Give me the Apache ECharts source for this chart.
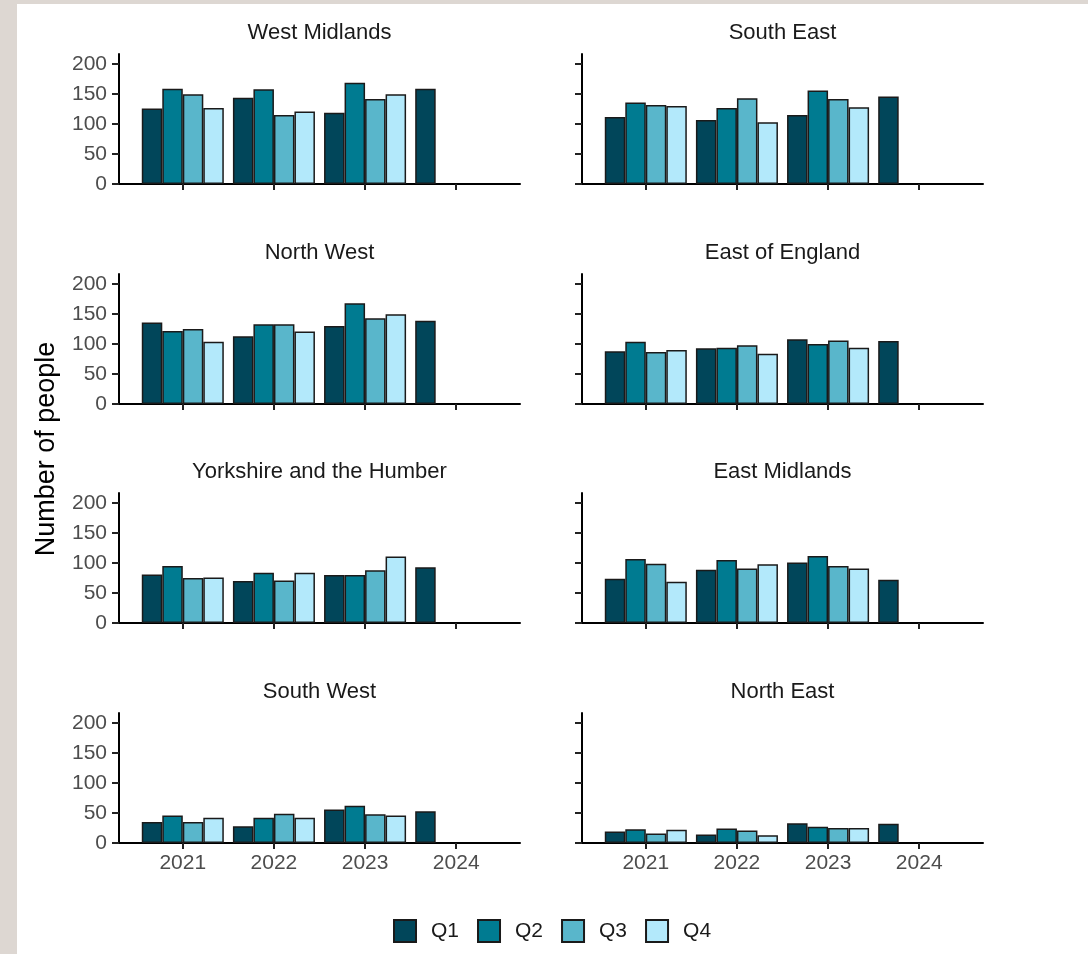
<!DOCTYPE html>
<html><head><meta charset="utf-8">
<script src="https://cdn.jsdelivr.net/npm/echarts@6/dist/echarts.min.js"></script>
<style>
html,body{margin:0;padding:0;background:#ddd7d2;}
#bg{position:absolute;left:17px;top:4px;width:1071px;height:950px;background:#ffffff;}
#chart{position:absolute;left:0;top:0;width:1088px;height:954px;}
</style></head><body><div id="bg"></div><div id="chart"></div>
<script>
// ---- data ----
const years = [2021, 2022, 2023, 2024];
const quarters = ['Q1', 'Q2', 'Q3', 'Q4'];
const yTickValues = [0, 50, 100, 150, 200];
const quarterColors = ['#01465a', '#007b91', '#59b6cb', '#b3e9fb'];
const regionNames = ['West Midlands', 'South East', 'North West', 'East of England',
  'Yorkshire and the Humber', 'East Midlands', 'South West', 'North East'];
// rows: Q1..Q4, columns: years
const westMidlands = [[126, 144, 119, 159], [159, 158, 169], [150, 115, 142], [127, 121, 150]];
const southEast = [[112, 107, 115, 146], [136, 127, 156], [132, 143, 142], [130, 103, 128]];
const northWest = [[136, 113, 130, 139], [122, 133, 168], [125, 133, 143], [104, 121, 150]];
const eastOfEngland = [[88, 93, 108, 105], [104, 94, 100], [87, 98, 106], [90, 84, 94]];
const yorkshire = [[81, 70, 80, 93], [95, 84, 80], [75, 71, 88], [76, 84, 111]];
const eastMidlands = [[74, 89, 101, 72], [107, 105, 112], [99, 91, 95], [69, 98, 91]];
const southWest = [[35, 28, 56, 53], [46, 42, 62], [35, 49, 48], [42, 42, 46]];
const northEast = [[19, 14, 33, 32], [23, 24, 27], [16, 21, 25], [22, 13, 25]];
const regionData = [westMidlands, southEast, northWest, eastOfEngland, yorkshire, eastMidlands, southWest, northEast];

// ---- layout ----
const colLeft = [119, 582];
const gridWidth = 401;
const rowTop = [54, 274, 493, 713];
const gridHeight = 130;
const yMax = 217;
const FONT = 'Liberation Sans, Arial, sans-serif';

const grids = [], xAxes = [], yAxes = [], series = [], graphics = [];
regionNames.forEach((name, i) => {
  const col = i % 2, row = Math.floor(i / 2);
  grids.push({left: colLeft[col], top: rowTop[row], width: gridWidth, height: gridHeight});
  const bottomRow = row === 3;
  xAxes.push({
    type: 'value', gridIndex: i, min: 2020.3, max: 2024.7,
    splitLine: {show: false},
    axisLine: {show: true, lineStyle: {color: '#000', width: 2}},
    axisTick: {show: true, length: 6, customValues: years, lineStyle: {color: '#222', width: 2}},
    axisLabel: {show: bottomRow, customValues: years, margin: 10, fontSize: 21,
      color: '#4d4d4d', fontFamily: FONT, formatter: v => String(v)}
  });
  yAxes.push({
    type: 'value', gridIndex: i, min: 0, max: yMax,
    splitLine: {show: false},
    axisLine: {show: true, lineStyle: {color: '#000', width: 2}},
    axisTick: {show: true, length: 7, customValues: yTickValues, lineStyle: {color: '#222', width: 2}},
    axisLabel: {show: col === 0, customValues: yTickValues, margin: 12, fontSize: 21,
      color: '#4d4d4d', fontFamily: FONT}
  });
  regionData[i].forEach((vals, q) => {
    series.push({
      type: 'bar', name: quarters[q], xAxisIndex: i, yAxisIndex: i,
      data: vals.map((v, k) => [years[k], v]),
      barGap: '0%', barCategoryGap: '10%',
      itemStyle: {color: quarterColors[q], borderColor: '#1a1a1a', borderWidth: 1.5},
      emphasis: {disabled: true}, animation: false
    });
  });
  graphics.push({
    type: 'text', x: colLeft[col] + gridWidth / 2, y: rowTop[row] - 21,
    style: {text: name, align: 'center', verticalAlign: 'middle', fontSize: 22,
      fill: '#1a1a1a', fontFamily: FONT}
  });
});
graphics.push({
  type: 'text', x: 47, y: 449, rotation: Math.PI / 2,
  style: {text: 'Number of people', align: 'center', verticalAlign: 'middle', fontSize: 27,
    fill: '#000', fontFamily: FONT}
});

const chart = echarts.init(document.getElementById('chart'), null, {renderer: 'canvas'});
chart.setOption({
  backgroundColor: 'transparent',
  animation: false,
  grid: grids, xAxis: xAxes, yAxis: yAxes, series: series, graphic: graphics,
  legend: {
    data: quarters, left: 388, top: 914, itemWidth: 22, itemHeight: 22, itemGap: 18,
    icon: 'rect',
    textStyle: {fontSize: 21, color: '#1a1a1a', padding: [0, 0, 0, 10], fontFamily: FONT}
  }
});
</script></body></html>
